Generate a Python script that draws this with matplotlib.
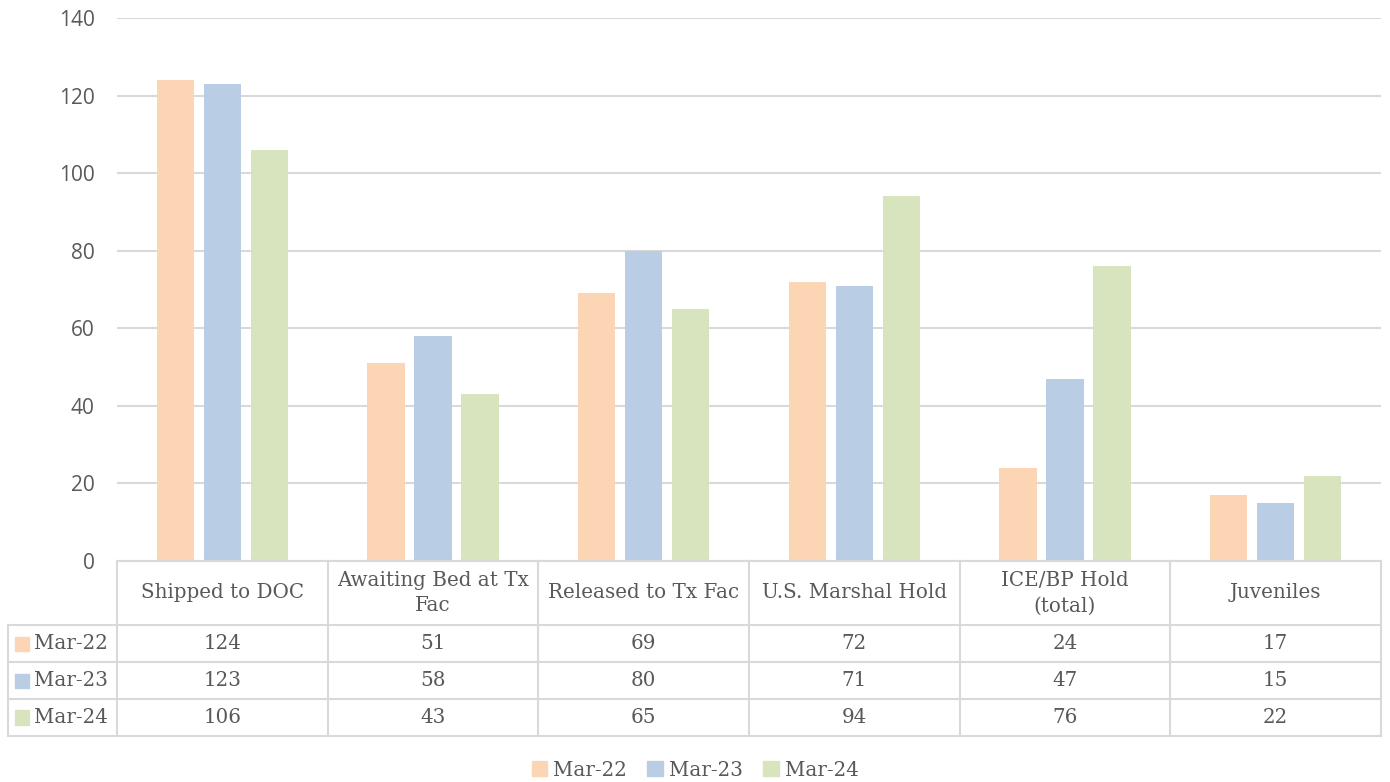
import matplotlib.pyplot as plt
import numpy as np
from matplotlib.lines import Line2D
from matplotlib.patches import Patch, Rectangle

# ==========================================
# DATA
# ==========================================

categories = ["Shipped to DOC", "Awaiting Bed at Tx\nFac", "Released to Tx Fac",
              "U.S. Marshal Hold", "ICE/BP Hold\n(total)", "Juveniles"]
series_names = ["Mar-22", "Mar-23", "Mar-24"]
mar22 = [124, 51, 69, 72, 24, 17]
mar23 = [123, 58, 80, 71, 47, 15]
mar24 = [106, 43, 65, 94, 76, 22]

colors = ["#FCD5B5", "#B9CDE5", "#D7E4BD"]
grid_color = "#D9D9D9"
text_color = "#595959"
serif = "DejaVu Serif"
fsize = 14.3

W, H = 1390, 782
fig = plt.figure(figsize=(W / 100, H / 100), dpi=100)


def fx(px):
    return px / W


def fy(py):
    return 1 - py / H


# ==========================================
# PLOT AREA
# ==========================================

x0, x1 = 117, 1381
y_top, y_bot = 18, 561
ax = fig.add_axes([fx(x0), fy(y_bot), fx(x1) - fx(x0), fy(y_top) - fy(y_bot)])

x = np.arange(len(categories))
width = 0.176
step = 0.223
for i, vals in enumerate([mar22, mar23, mar24]):
    ax.bar(x + (i - 1) * step, vals, width, color=colors[i], zorder=2)

ax.set_xlim(-0.5, len(categories) - 0.5)
ax.set_ylim(0, 140)
ax.set_yticks(range(0, 141, 20))
ax.yaxis.grid(True, color=grid_color, linewidth=1.5, zorder=0)
ax.set_xticks([])
ax.tick_params(axis="y", length=0, pad=16, labelsize=15, labelcolor=text_color)
for lbl in ax.get_yticklabels():
    lbl.set_family("Open Sans")
for s in ax.spines.values():
    s.set_visible(False)

# ==========================================
# DATA TABLE
# ==========================================

col_w = (x1 - x0) / len(categories)
header_bot = 625
row_h = 37
rows = [mar22, mar23, mar24]
table_bot = header_bot + row_h * len(rows)


def hline(px0, px1, py):
    fig.add_artist(Line2D([fx(px0), fx(px1)], [fy(py), fy(py)], color=grid_color, lw=1.5))


def vline(px, py0, py1):
    fig.add_artist(Line2D([fx(px), fx(px)], [fy(py0), fy(py1)], color=grid_color, lw=1.5))


hline(x0, x1, y_bot)
for r in range(len(rows) + 1):
    hline(8, x1, header_bot + r * row_h)
for c in range(len(categories) + 1):
    vline(x0 + c * col_w, y_bot, table_bot)
vline(8, header_bot, table_bot)

for c, cat in enumerate(categories):
    fig.text(fx(x0 + (c + 0.5) * col_w), fy((y_bot + header_bot) / 2), cat,
             ha="center", va="center", family=serif, fontsize=fsize,
             color=text_color, linespacing=1.45)

for r, vals in enumerate(rows):
    cy = header_bot + (r + 0.5) * row_h
    fig.add_artist(Rectangle((fx(15), fy(cy + 7)), fx(14), fy(cy - 7) - fy(cy + 7),
                             color=colors[r]))
    fig.text(fx(34), fy(cy), series_names[r], ha="left", va="center",
             family=serif, fontsize=fsize, color=text_color)
    for c, v in enumerate(vals):
        fig.text(fx(x0 + (c + 0.5) * col_w), fy(cy), str(v), ha="center", va="center",
                 family=serif, fontsize=fsize, color=text_color)

# ==========================================
# LEGEND
# ==========================================

handles = [Patch(color=colors[i], label=series_names[i]) for i in range(3)]
fig.legend(handles=handles, loc="center", bbox_to_anchor=(0.5, fy(770)), ncol=3,
           frameon=False, prop={"family": serif, "size": fsize}, labelcolor=text_color,
           handlelength=0.8, handleheight=0.8, handletextpad=0.3, columnspacing=1.0)

fig.savefig("out.png", dpi=100)
